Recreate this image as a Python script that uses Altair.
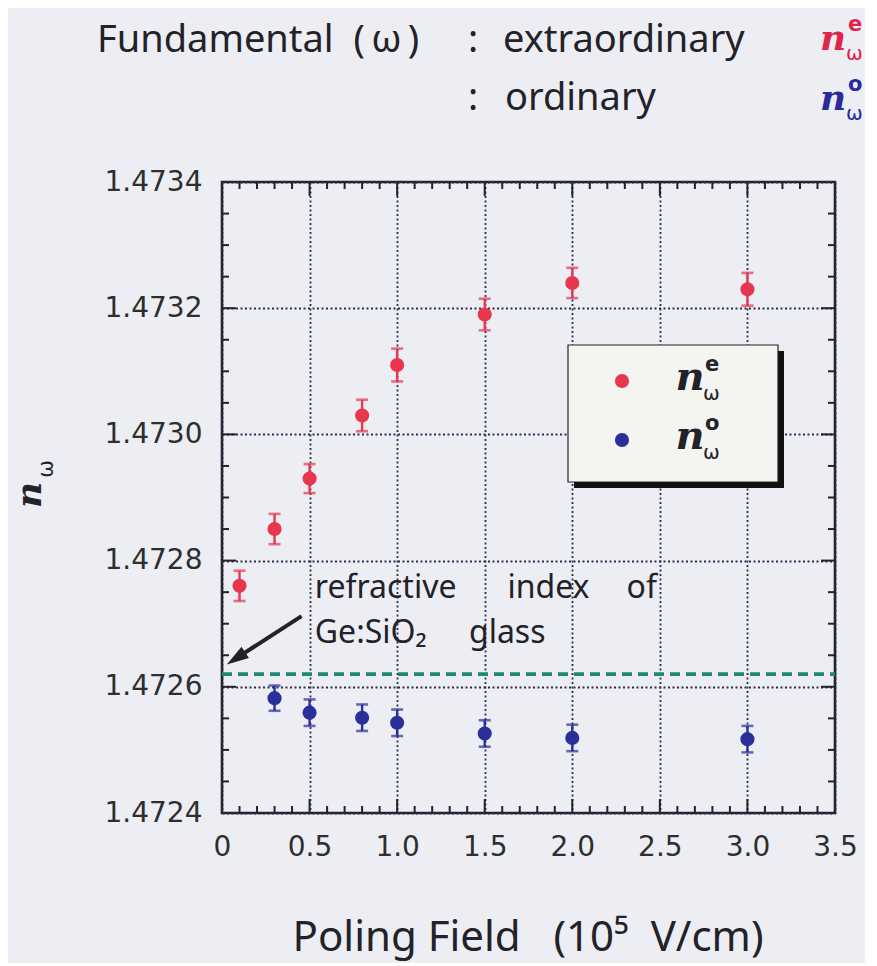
import altair as alt
import pandas as pd

# ---------------- data ----------------
field_e = [0.1, 0.3, 0.5, 0.8, 1.0, 1.5, 2.0, 3.0]
n_e = [1.47276, 1.47285, 1.47293, 1.47303, 1.47311, 1.47319, 1.47324, 1.47323]
err_e = [0.000024, 0.000024, 0.000023, 0.000025, 0.000026, 0.000025, 0.000024, 0.000026]

field_o = [0.3, 0.5, 0.8, 1.0, 1.5, 2.0, 3.0]
n_o = [1.472582, 1.472559, 1.472551, 1.472543, 1.472526, 1.472519, 1.472517]
err_o = [0.000020, 0.000021, 0.000021, 0.000021, 0.000021, 0.000021, 0.000021]

glass_index = 1.47262

x_label_vals = [0, 0.5, 1.0, 1.5, 2.0, 2.5, 3.0, 3.5]
y_label_vals = [1.4724, 1.4726, 1.4728, 1.4730, 1.4732, 1.4734]
x_major_ticks = [0.5, 1.0, 1.5, 2.0, 2.5, 3.0]
x_minor_ticks = [0.1, 0.2, 0.3, 0.4, 0.6, 0.7, 0.8, 0.9, 1.1, 1.2, 1.3, 1.4,
                 1.6, 1.7, 1.8, 1.9, 2.1, 2.2, 2.3, 2.4, 2.6, 2.7, 2.8, 2.9,
                 3.1, 3.2, 3.3, 3.4]
y_major_ticks = [1.4726, 1.4728, 1.4730, 1.4732]
y_minor_ticks = [1.47245, 1.4725, 1.47255, 1.47265, 1.4727, 1.47275, 1.47285,
                 1.4729, 1.47295, 1.47305, 1.4731, 1.47315, 1.47325, 1.4733,
                 1.47335]

# annotation (data coordinates)
note_words = ["refractive", "index", "of", "Ge:SiO\u2082", "glass"]
note_x = [0.53, 1.63, 2.31, 0.53, 1.41]
note_y = [1.472757, 1.472757, 1.472757, 1.472686, 1.472686]
arrow_tail = [0.454, 1.472712]
arrow_end = [0.08, 1.472645]

# ---------------- styling ----------------
W, H = 613, 631
RED = "#e8364f"
BLUE = "#2b2f9a"
TEAL = "#1f8a72"
INK = "#222228"
BG = "#eceef4"

xs = alt.Scale(domain=[0, 3.5], nice=False, zero=False)
ys = alt.Scale(domain=[1.4724, 1.4734], nice=False, zero=False)

grid_kw = dict(grid=True, gridColor="#2c2c50", gridDash=[2, 2.5], gridWidth=1.8,
               ticks=False, domain=False, title=None, labelFont="DejaVu Sans",
               labelFontSize=28, labelColor="#2e2e2e", labelOverlap=False)
x_axis = alt.Axis(values=x_label_vals, labelPadding=20, labelFlush=False,
                  labelExpr="datum.value == 0 ? '0' : format(datum.value, '.1f')",
                  **grid_kw)
y_axis = alt.Axis(values=y_label_vals, labelPadding=20, format=".4f", **grid_kw)


def X(f):
    return alt.X(f, type="quantitative", scale=xs, axis=x_axis)


def Y(f):
    return alt.Y(f, type="quantitative", scale=ys, axis=y_axis)


df_e = pd.DataFrame({"x": field_e, "y": n_e,
                     "lo": [v - e for v, e in zip(n_e, err_e)],
                     "hi": [v + e for v, e in zip(n_e, err_e)]})
df_o = pd.DataFrame({"x": field_o, "y": n_o,
                     "lo": [v - e for v, e in zip(n_o, err_o)],
                     "hi": [v + e for v, e in zip(n_o, err_o)]})
one = pd.DataFrame({"a": [0]})

layers = []

# error bars
for df, col in [(df_e, RED), (df_o, BLUE)]:
    layers.append(
        alt.Chart(df).mark_rule(color=col, strokeWidth=2.4).encode(
            x=X("x"), y=Y("lo"), y2="hi:Q")
    )
    for end in ["lo", "hi"]:
        layers.append(
            alt.Chart(df).mark_tick(color=col, orient="horizontal", size=12,
                                    thickness=2.6).encode(x=X("x"), y=Y(end))
        )

# glass index dashed line
layers.append(
    alt.Chart(pd.DataFrame({"g": [glass_index]})).mark_rule(
        color=TEAL, strokeWidth=3.8, strokeDash=[10, 6]).encode(
        y=Y("g"), x=alt.value(0), x2=alt.value(W))
)

# points
for df, col in [(df_e, RED), (df_o, BLUE)]:
    layers.append(
        alt.Chart(df).mark_circle(color=col, size=200, opacity=1).encode(
            x=X("x"), y=Y("y"))
    )


# inward ticks on all four sides
def xticks(vals, length):
    d = pd.DataFrame({"t": vals})
    out = []
    for y0, y1 in [(H, H - length), (0, length)]:
        out.append(alt.Chart(d).mark_rule(color=INK, strokeWidth=2).encode(
            x=X("t"), y=alt.value(y0), y2=alt.value(y1)))
    return out


def yticks(vals, length):
    d = pd.DataFrame({"t": vals})
    out = []
    for x0, x1 in [(0, length), (W, W - length)]:
        out.append(alt.Chart(d).mark_rule(color=INK, strokeWidth=2).encode(
            y=Y("t"), x=alt.value(x0), x2=alt.value(x1)))
    return out


layers += xticks(x_major_ticks, 14) + xticks(x_minor_ticks, 7)
layers += yticks(y_major_ticks, 14) + yticks(y_minor_ticks, 7)

# annotation text and arrow
df_note = pd.DataFrame({"x": note_x, "y": note_y, "w": note_words})
layers.append(
    alt.Chart(df_note).mark_text(font="Noto Sans", fontSize=32, color=INK,
                                 align="left", baseline="middle").encode(
        x=X("x"), y=Y("y"), text="w:N")
)
df_arrow = pd.DataFrame({"x": [arrow_tail[0]], "y": [arrow_tail[1]],
                         "x2": [arrow_end[0]], "y2": [arrow_end[1]]})
layers.append(
    alt.Chart(df_arrow).mark_rule(color=INK, strokeWidth=4).encode(
        x=X("x"), y=Y("y"), x2="x2:Q", y2="y2:Q")
)
layers.append(
    alt.Chart(df_arrow).mark_point(shape="M0,-1L0.62,1L-0.62,1Z", filled=True,
                                   angle=236.7, size=484, color=INK, opacity=1).encode(
        x=X("x2"), y=Y("y2"))
)


# ---------------- text / legend helpers ----------------
def txt(s, x, y, size, font="Noto Sans", color=INK, weight="normal",
        style="normal", align="left", baseline="alphabetic", angle=0):
    return alt.Chart(one).mark_text(text=s, font=font, fontSize=size, color=color,
                                    fontWeight=weight, fontStyle=style, align=align,
                                    baseline=baseline, angle=angle).encode(
        x=alt.value(x), y=alt.value(y))


def nsym(x, base, sup, color, size=38, supsize=21, subsize=20):
    return [
        txt("n", x, base, size, font="DejaVu Serif", color=color, weight="bold",
            style="italic", align="center"),
        txt(sup, x + 15, base - 25, supsize, font="DejaVu Sans", color=color,
            weight="bold", baseline="middle"),
        txt("\u03c9", x + 13, base + 4, subsize, font="DejaVu Sans", color=color,
            baseline="middle"),
    ]


# legend box with shadow
layers.append(alt.Chart(one).mark_rect(color="#111111").encode(
    x=alt.value(352), x2=alt.value(562), y=alt.value(169), y2=alt.value(306)))
layers.append(alt.Chart(one).mark_rect(fill="#f4f4f1", stroke=INK, strokeWidth=1.2).encode(
    x=alt.value(346), x2=alt.value(556), y=alt.value(163), y2=alt.value(300)))
layers.append(alt.Chart(one).mark_circle(color=RED, size=200, opacity=1).encode(
    x=alt.value(400), y=alt.value(199)))
layers.append(alt.Chart(one).mark_circle(color=BLUE, size=200, opacity=1).encode(
    x=alt.value(400), y=alt.value(258)))
layers += nsym(468, 208, "e", INK, size=40)
layers += nsym(468, 267, "o", INK, size=40)

# header lines
layers.append(txt("Fundamental\u00a0\u00a0(\u2009\u03c9\u2009)", -125, -130, 38))
layers.append(txt(":", 251, -130, 38, align="center"))
layers.append(txt("extraordinary", 281, -130, 38))
layers += nsym(611, -132, "e", "#e0244a", size=36)
layers.append(txt(":", 251, -72, 38, align="center"))
layers.append(txt("ordinary", 283, -72, 38))
layers += nsym(611, -72, "o", "#2a2a9c", size=36)

# y title (rotated n_omega)
layers.append(txt("n", -192, 313, 36, font="DejaVu Serif", weight="bold",
                  style="italic", align="center", baseline="middle", angle=270))
layers.append(txt("\u03c9", -175, 287, 21, font="DejaVu Sans", align="center",
                  baseline="middle", angle=270))

# x title
layers.append(txt("Poling Field\u00a0\u00a0\u00a0(10\u2075\u00a0\u00a0V/cm)", 306, 769, 42,
                  align="center"))

chart = alt.layer(*layers).properties(
    width=W, height=H,
    autosize=alt.AutoSizeParams(type="none"),
    padding={"left": 214, "top": 174, "right": 30, "bottom": 150},
).configure(background=BG).configure_view(stroke=INK, strokeWidth=2.6, fill=BG)

chart.save("out.html", embed_options={"renderer": "svg", "actions": False})
